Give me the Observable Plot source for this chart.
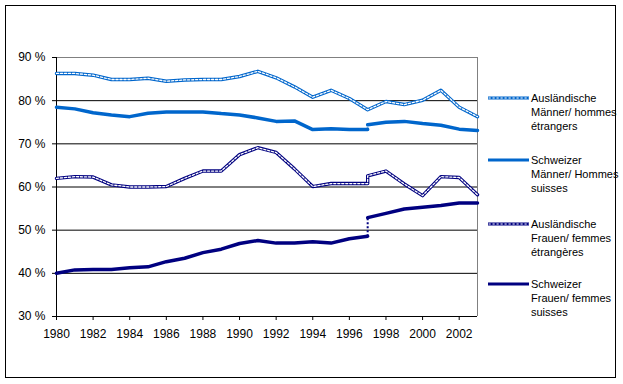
<!DOCTYPE html>
<html><head><meta charset="utf-8">
<script src="https://cdn.jsdelivr.net/npm/d3@7"></script>
<script src="https://cdn.jsdelivr.net/npm/@observablehq/plot@0.6"></script>
<style>
body{margin:0;background:#fff;}
#wrap{position:relative;width:623px;height:384px;font-family:"Liberation Sans",Arial,sans-serif;color:#000;overflow:hidden;}
#frame{position:absolute;left:5px;top:5px;width:611px;height:373px;border:1px solid #000;box-sizing:border-box;pointer-events:none;}
#chart{position:absolute;left:0;top:0;}
.lg{position:absolute;left:488px;width:130px;}
.lg svg{position:absolute;left:0;top:0;}
.lg .t{position:absolute;left:43px;top:0;font-size:11px;line-height:14px;white-space:nowrap;}
</style></head>
<body>
<div id="wrap"><div id="chart"></div><div id="frame"></div></div>
<script>
// Years (1997 appears twice: break in the series, old and new survey)
const years = [1980,1981,1982,1983,1984,1985,1986,1987,1988,1989,1990,1991,1992,1993,1994,1995,1996,1997,1997,1998,1999,2000,2001,2002,2003];
const breakIndex = 18;

const seriesNames = [
  "Ausländische Männer/ hommes étrangers",
  "Schweizer Männer/ Hommes suisses",
  "Ausländische Frauen/ femmes étrangères",
  "Schweizer Frauen/ femmes suisses"
];
const legendLines = [
  ["Ausländische","Männer/ hommes","étrangers"],
  ["Schweizer","Männer/ Hommes","suisses"],
  ["Ausländische","Frauen/ femmes","étrangères"],
  ["Schweizer","Frauen/ femmes","suisses"]
];
const auslMaenner = [86.3,86.3,85.9,84.9,84.9,85.2,84.5,84.8,84.9,84.9,85.6,86.8,85.3,83.2,80.8,82.4,80.5,77.9,77.9,79.8,79.1,80.1,82.4,78.5,76.3];
const schwMaenner = [78.5,78.1,77.2,76.7,76.3,77.1,77.4,77.4,77.4,77.0,76.7,76.0,75.2,75.3,73.3,73.5,73.3,73.3,74.4,75.0,75.2,74.7,74.3,73.4,73.1];
const auslFrauen  = [62.0,62.4,62.3,60.5,60.0,60.0,60.1,62.0,63.7,63.7,67.5,69.1,68.0,64.2,60.1,60.8,60.8,60.8,62.6,63.7,60.7,58.0,62.4,62.2,58.2];
const schwFrauen  = [40.0,40.8,40.9,40.9,41.3,41.5,42.7,43.5,44.8,45.6,46.9,47.6,47.0,47.0,47.3,47.0,48.0,48.6,52.9,53.9,54.9,55.3,55.7,56.3,56.3];

const yTicks = [30,40,50,60,70,80,90];
const xTicks = [1980,1982,1984,1986,1988,1990,1992,1994,1996,1998,2000,2002];

const colors = ["#0066cc","#0066cc","#000080","#000080"];
const hollow = [true,false,true,false];
const allValues = [auslMaenner, schwMaenner, auslFrauen, schwFrauen];

function rows(vals){ return vals.map((v,i)=>({year:years[i], value:v, seg: i<breakIndex ? "old":"new"})); }

const marks = [
  Plot.ruleY([40,50,60,70,80], {stroke:"#000", strokeWidth:1}),
  Plot.ruleY([90], {stroke:"#808080"}),
  Plot.ruleX([2003], {stroke:"#808080"}),
  Plot.ruleX([1980], {stroke:"#000"}),
  Plot.ruleY([30], {stroke:"#000"}),
  Plot.axisY({ticks:yTicks, tickSize:4, tickPadding:7, tickFormat:d=>d+" %", label:null, fontSize:12}),
  Plot.axisX({ticks:xTicks, tickSize:4, tickPadding:9, tickFormat:d=>String(d), label:null, fontSize:12})
];

allValues.forEach((vals,k)=>{
  const data = rows(vals);
  if (hollow[k]) {
    marks.push(Plot.line(data, {x:"year", y:"value", stroke:colors[k], strokeWidth:3.4}));
    marks.push(Plot.line(data, {x:"year", y:"value", stroke:"#fff", strokeWidth:1.3, strokeDasharray:"2.2,1.8"}));
  } else {
    marks.push(Plot.line(data, {x:"year", y:"value", z:"seg", stroke:colors[k], strokeWidth:3.5}));
    const link = [{x:years[breakIndex-1], y1:vals[breakIndex-1], y2:vals[breakIndex]}];
    marks.push(Plot.link(link, {x1:"x", x2:"x", y1:"y1", y2:"y2", stroke:colors[k], strokeWidth:2, strokeDasharray:"2,2"}));
  }
});

const chart = Plot.plot({
  width:623, height:384,
  marginLeft:56, marginRight:146, marginTop:57, marginBottom:68,
  style:{fontFamily:"'Liberation Sans', Arial, sans-serif", fontSize:"12px", color:"#000", background:"transparent"},
  x:{domain:[1980,2003]},
  y:{domain:[30,90]},
  marks
});
document.getElementById("chart").appendChild(chart);

// Legend
const legendTops = [97.5, 159.5, 224, 284];
const wrap = document.getElementById("wrap");
legendLines.forEach((lines,k)=>{
  const d = document.createElement("div");
  d.className = "lg";
  d.style.top = (legendTops[k]-7) + "px";
  const sw = hollow[k]
    ? `<svg width="42" height="14"><line x1="0" x2="41" y1="7" y2="7" stroke="${colors[k]}" stroke-width="3.2"/><line x1="0.5" x2="41" y1="7" y2="7" stroke="#fff" stroke-width="1.2" stroke-dasharray="2.2,1.8"/></svg>`
    : `<svg width="42" height="14"><line x1="0" x2="41" y1="7" y2="7" stroke="${colors[k]}" stroke-width="3"/></svg>`;
  d.innerHTML = sw + `<div class="t" title="${seriesNames[k]}">${lines.join("<br>")}</div>`;
  wrap.appendChild(d);
});
</script>
</body></html>
